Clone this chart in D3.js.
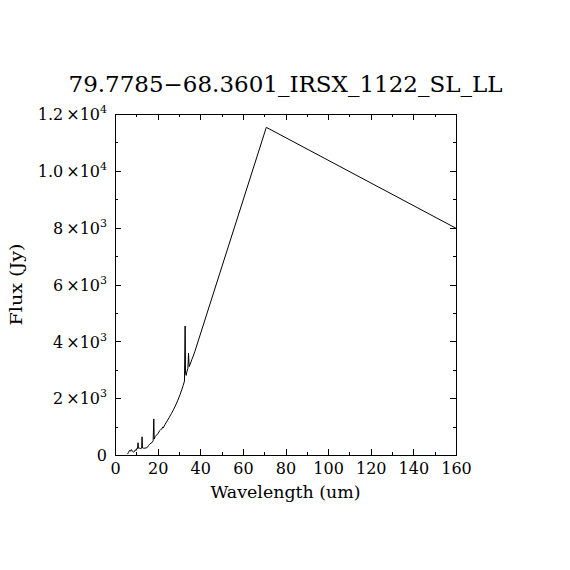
<!DOCTYPE html>
<html>
<head>
<meta charset="utf-8">
<script src="https://cdn.jsdelivr.net/npm/d3@7"></script>
<style>
  body { margin: 0; background: #fff; }
  svg { display: block; }
</style>
</head>
<body>
<div id="chart"></div>
<script>
// spectrum (wavelength in um, flux in Jy)
const wavelength = [
  5.9, 6.3, 6.7, 7.0, 7.4, 7.7, 8.1, 8.5, 8.8, 9.2, 9.5, 9.9, 10.3, 10.6, 10.8,
  11.0, 11.3, 11.7, 12.1, 12.5, 12.7, 12.9, 13.4, 14.0, 14.6, 15.2, 15.7, 16.3,
  16.9, 17.4, 17.9, 18.2, 18.4, 18.9, 19.5, 20.3, 21.0, 21.5, 22.0, 22.4, 22.7,
  23.5, 24.5, 25.5, 26.5, 27.4, 28.5, 29.5, 30.5, 31.3, 32.0, 32.6, 32.9, 33.1,
  33.4, 33.8, 34.2, 34.5, 34.8, 35.3, 36.0, 36.7, 37.5, 71.0, 160.0
];
const flux = [
  30, 90, 140, 170, 130, 190, 150, 110, 100, 130, 180, 160, 240, 230, 430,
  240, 250, 230, 230, 240, 640, 250, 240, 240, 250, 270, 330, 380,
  420, 440, 500, 1270, 560, 650, 700, 770, 860, 900, 920, 990, 960,
  1080, 1200, 1330, 1460, 1590, 1760, 1930, 2120, 2290, 2450, 2600, 4540, 2880,
  2800, 2950, 3050, 3580, 3110, 3200, 3350, 3480, 3650, 11530, 7980
];

const xMajor = [0, 20, 40, 60, 80, 100, 120, 140, 160];
const xMinor = [10, 30, 50, 70, 90, 110, 130, 150];
const yMajor = [0, 2000, 4000, 6000, 8000, 10000, 12000];
const yMinor = [1000, 3000, 5000, 7000, 9000, 11000];

const titleText = "79.7785\u221268.3601_IRSX_1122_SL_LL";
const xTitle = "Wavelength (um)";
const yTitle = "Flux (Jy)";

const width = 570, height = 570;
const plotLeft = 115, plotRight = 456, plotTop = 114, plotBottom = 455;
const font = "'DejaVu Serif', serif";

const svg = d3.select("#chart").append("svg")
  .attr("width", width)
  .attr("height", height)
  .style("font-family", font);

svg.append("rect").attr("width", width).attr("height", height).attr("fill", "#fff");

const x = d3.scaleLinear().domain([0, 160]).range([plotLeft, plotRight]);
const y = d3.scaleLinear().domain([0, 12000]).range([plotBottom, plotTop]);

function styleAxis(g) {
  g.selectAll("path, line")
    .attr("stroke", "#000")
    .attr("stroke-width", 1)
    .attr("shape-rendering", "crispEdges");
}

// major ticks with labels
svg.append("g")
  .attr("transform", `translate(0,${plotBottom})`)
  .call(d3.axisBottom(x).tickValues(xMajor).tickSizeInner(-6).tickSizeOuter(0)
    .tickPadding(8).tickFormat(d3.format("d")))
  .call(styleAxis)
  .call(g => g.selectAll("text").attr("font-size", 16).attr("fill", "#000")
    .attr("font-family", font));

svg.append("g")
  .attr("transform", `translate(0,${plotBottom})`)
  .call(d3.axisBottom(x).tickValues(xMinor).tickSize(-3).tickFormat(""))
  .call(styleAxis);

svg.append("g")
  .attr("transform", `translate(0,${plotTop})`)
  .call(d3.axisTop(x).tickValues(xMajor).tickSizeInner(-6).tickSizeOuter(0).tickFormat(""))
  .call(styleAxis);

svg.append("g")
  .attr("transform", `translate(0,${plotTop})`)
  .call(d3.axisTop(x).tickValues(xMinor).tickSize(-3).tickFormat(""))
  .call(styleAxis);

function sciLabel(d) {
  if (d === 0) return ["0", null, null];
  const e = Math.floor(Math.log10(d));
  const m = d / Math.pow(10, e);
  const mant = e >= 4 ? m.toFixed(1) : String(Math.round(m));
  return [mant, "\u00d710", String(e)];
}

svg.append("g")
  .attr("transform", `translate(${plotLeft},0)`)
  .call(d3.axisLeft(y).tickValues(yMajor).tickSizeInner(-6).tickSizeOuter(0)
    .tickPadding(8).tickFormat(""))
  .call(styleAxis)
  .call(g => g.selectAll(".tick text").each(function (d) {
    const t = d3.select(this)
      .attr("font-size", 16)
      .attr("fill", "#000")
      .attr("font-family", font)
      .attr("dy", "0.36em");
    const [mant, times, exp] = sciLabel(d);
    t.append("tspan").text(mant);
    if (times) {
      t.append("tspan").attr("dx", 3).text(times);
      t.append("tspan").attr("font-size", 11).attr("dy", -7).text(exp);
    }
  }));

svg.append("g")
  .attr("transform", `translate(${plotLeft},0)`)
  .call(d3.axisLeft(y).tickValues(yMinor).tickSize(-3).tickFormat(""))
  .call(styleAxis);

svg.append("g")
  .attr("transform", `translate(${plotRight},0)`)
  .call(d3.axisRight(y).tickValues(yMajor).tickSizeInner(-6).tickSizeOuter(0).tickFormat(""))
  .call(styleAxis);

svg.append("g")
  .attr("transform", `translate(${plotRight},0)`)
  .call(d3.axisRight(y).tickValues(yMinor).tickSize(-3).tickFormat(""))
  .call(styleAxis);

// spectrum
const pts = wavelength.map((w, i) => [w, flux[i]]);
svg.append("path")
  .datum(pts)
  .attr("fill", "none")
  .attr("stroke", "#000")
  .attr("stroke-width", 1)
  .attr("d", d3.line().x(d => x(d[0])).y(d => y(d[1])));

// titles
svg.append("text")
  .attr("x", (plotLeft + plotRight) / 2)
  .attr("y", 92)
  .attr("text-anchor", "middle")
  .attr("font-size", 22)
  .attr("textLength", 434)
  .attr("lengthAdjust", "spacingAndGlyphs")
  .text(titleText);

svg.append("text")
  .attr("x", (plotLeft + plotRight) / 2)
  .attr("y", 498)
  .attr("text-anchor", "middle")
  .attr("font-size", 16)
  .attr("textLength", 150)
  .attr("lengthAdjust", "spacingAndGlyphs")
  .text(xTitle);

svg.append("text")
  .attr("transform", `translate(22,${(plotTop + plotBottom) / 2}) rotate(-90)`)
  .attr("text-anchor", "middle")
  .attr("font-size", 16)
  .attr("textLength", 82)
  .attr("lengthAdjust", "spacingAndGlyphs")
  .text(yTitle);
</script>
</body>
</html>
